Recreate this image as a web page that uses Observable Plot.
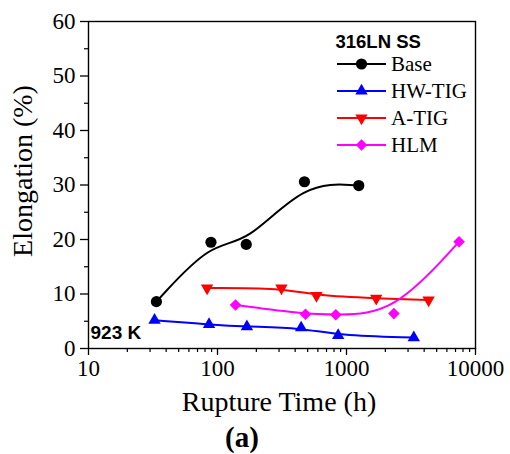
<!DOCTYPE html>
<html>
<head>
<meta charset="utf-8">
<script src="https://cdn.jsdelivr.net/npm/d3@7"></script>
<script src="https://cdn.jsdelivr.net/npm/@observablehq/plot@0.6"></script>
<style>
  html, body { margin: 0; padding: 0; background: #fff; }
  #chart { width: 510px; height: 454px; }
</style>
</head>
<body>
<div id="chart"></div>
<script>
// ---- data ----
const seriesNames = ["Base", "HW-TIG", "A-TIG", "HLM"];
const seriesColors = ["#000000", "#0000ff", "#ff0000", "#ff00ff"];

const baseTime = [33.6, 89, 167, 472, 1245];
const baseElong = [8.6, 19.5, 19.1, 30.6, 29.9];

const hwTime = [32.5, 86, 169, 445, 862, 3325];
const hwElong = [5.2, 4.4, 4.0, 3.8, 2.4, 2.0];

const atigTime = [83, 313, 585, 1700, 4330];
const atigElong = [11.1, 11.1, 9.7, 9.2, 8.9];

const hlmTime = [138, 481, 826, 2330, 7460];
const hlmElong = [8.0, 6.3, 6.2, 6.4, 19.6];

const xTicks = [10, 100, 1000, 10000];
const xMinorTicks = [20, 30, 40, 50, 60, 70, 80, 90, 200, 300, 400, 500, 600, 700, 800, 900, 2000, 3000, 4000, 5000, 6000, 7000, 8000, 9000];
const yTicks = [0, 10, 20, 30, 40, 50, 60];
const yMinorTicks = [5, 15, 25, 35, 45, 55];

const legendTitle = "316LN SS";
const tempLabel = "923 K";
const xLabel = "Rupture Time (h)";
const yLabel = "Elongation (%)";
const panelLabel = "(a)";

// ---- build table ----
const times = [baseTime, hwTime, atigTime, hlmTime];
const elongs = [baseElong, hwElong, atigElong, hlmElong];
const rows = [];
seriesNames.forEach((name, i) => {
  times[i].forEach((t, j) => rows.push({series: name, time: t, elong: elongs[i][j]}));
});
const bySeries = name => rows.filter(d => d.series === name);

const serif = "Liberation Serif";
const sans = "Liberation Sans";
const serifCss = "'Liberation Serif', 'Times New Roman', serif";
const sansCss = "'Liberation Sans', Arial, sans-serif";

const lineMarks = seriesNames.map((name, i) =>
  Plot.line(bySeries(name), {x: "time", y: "elong", stroke: seriesColors[i], strokeWidth: 2, curve: "basis"})
);

const plot = Plot.plot({
  width: 510,
  height: 454,
  marginLeft: 88,
  marginRight: 35,
  marginTop: 21,
  marginBottom: 106,
  style: "font-family: 'Liberation Serif', serif; font-size: 22px; color: #000; background: #fff;",
  x: {type: "log", domain: [10, 10000]},
  y: {domain: [0, 60]},
  marks: [
    ...lineMarks,
    Plot.dot(bySeries("Base"), {x: "time", y: "elong", r: 5.6, symbol: "circle", fill: seriesColors[0], stroke: "none"}),
    Plot.dot(bySeries("HW-TIG"), {x: "time", y: "elong", r: 4.6, symbol: "triangle", fill: seriesColors[1], stroke: "none"}),
    Plot.dot(bySeries("A-TIG"), {x: "time", y: "elong", r: 4.6, symbol: "triangle", rotate: 180, fill: seriesColors[2], stroke: "none"}),
    Plot.dot(bySeries("HLM"), {x: "time", y: "elong", r: 5.2, symbol: "diamond2", fill: seriesColors[3], stroke: "none"}),
    Plot.frame({stroke: "#000", strokeWidth: 1.4}),
    Plot.axisX({ticks: xTicks, tickSize: 7, tickPadding: 4, tickFormat: d => String(d), label: null, fontSize: 23, fontFamily: serif, fontVariant: "normal", strokeWidth: 1.3}),
    Plot.axisX({ticks: xMinorTicks, tickSize: 4, tickFormat: () => "", label: null, strokeWidth: 1.2}),
    Plot.axisY({ticks: yTicks, tickSize: 8, tickPadding: 5, tickFormat: d => String(d), label: null, fontSize: 23, fontFamily: serif, fontVariant: "normal", strokeWidth: 1.3}),
    Plot.axisY({ticks: yMinorTicks, tickSize: 4, tickFormat: () => "", label: null, strokeWidth: 1.2}),
    Plot.text([xLabel], {text: d => d, frameAnchor: "bottom", dx: -3, dy: 54, fontSize: 28, fontFamily: serif, textAnchor: "middle", lineAnchor: "middle", fill: "#000"}),
    Plot.text([yLabel], {text: d => d, frameAnchor: "left", dx: -65, dy: -14, rotate: -90, fontSize: 28, fontFamily: serif, textAnchor: "middle", lineAnchor: "middle", fill: "#000"}),
    Plot.text([panelLabel], {text: d => d, frameAnchor: "bottom", dx: -40, dy: 89, fontSize: 29, fontWeight: "bold", fontFamily: serif, textAnchor: "middle", lineAnchor: "middle", fill: "#000"}),
    Plot.text([tempLabel], {text: d => d, frameAnchor: "bottom-left", dx: 2, dy: -16, fontSize: 19, fontWeight: "bold", fontFamily: sans, textAnchor: "start", lineAnchor: "middle", fill: "#000"}),
    Plot.text([legendTitle], {text: d => d, frameAnchor: "top-left", dx: 247, dy: 21, fontSize: 18.5, fontWeight: "bold", fontFamily: sans, textAnchor: "start", lineAnchor: "middle", fill: "#000"})
  ]
});

// ---- legend entries ----
const svg = d3.select(plot);
const symbolTypes = [d3.symbolCircle, d3.symbolTriangle, d3.symbolTriangle, d3.symbolDiamond2];
const symbolSizes = [Math.PI * 5.6 * 5.6, Math.PI * 4.6 * 4.6, Math.PI * 4.6 * 4.6, Math.PI * 5.2 * 5.2];
const legendX0 = 337, legendX1 = 386, legendTextX = 391, legendY0 = 64, legendStep = 27;
const lg = svg.append("g").attr("class", "legend");
seriesNames.forEach((name, i) => {
  const y = legendY0 + i * legendStep;
  lg.append("line").attr("x1", legendX0).attr("x2", legendX1).attr("y1", y).attr("y2", y)
    .attr("stroke", seriesColors[i]).attr("stroke-width", 2);
  lg.append("path").attr("d", d3.symbol(symbolTypes[i], symbolSizes[i])())
    .attr("transform", `translate(${(legendX0 + legendX1) / 2},${y})` + (i === 2 ? " rotate(180)" : ""))
    .attr("fill", seriesColors[i]);
  lg.append("text").attr("x", legendTextX).attr("y", y).attr("dy", "0.35em")
    .attr("text-anchor", "start")
    .attr("font-family", serif).attr("font-size", 21).attr("fill", "#000").text(name);
});

// make sure every text uses the intended family (inline style wins)
svg.selectAll("text").each(function () {
  const t = this.textContent;
  this.style.fontFamily = (t === tempLabel || t === legendTitle) ? sansCss : serifCss;
  this.style.fontVariant = "normal";
});

document.getElementById("chart").appendChild(plot);
</script>
</body>
</html>
